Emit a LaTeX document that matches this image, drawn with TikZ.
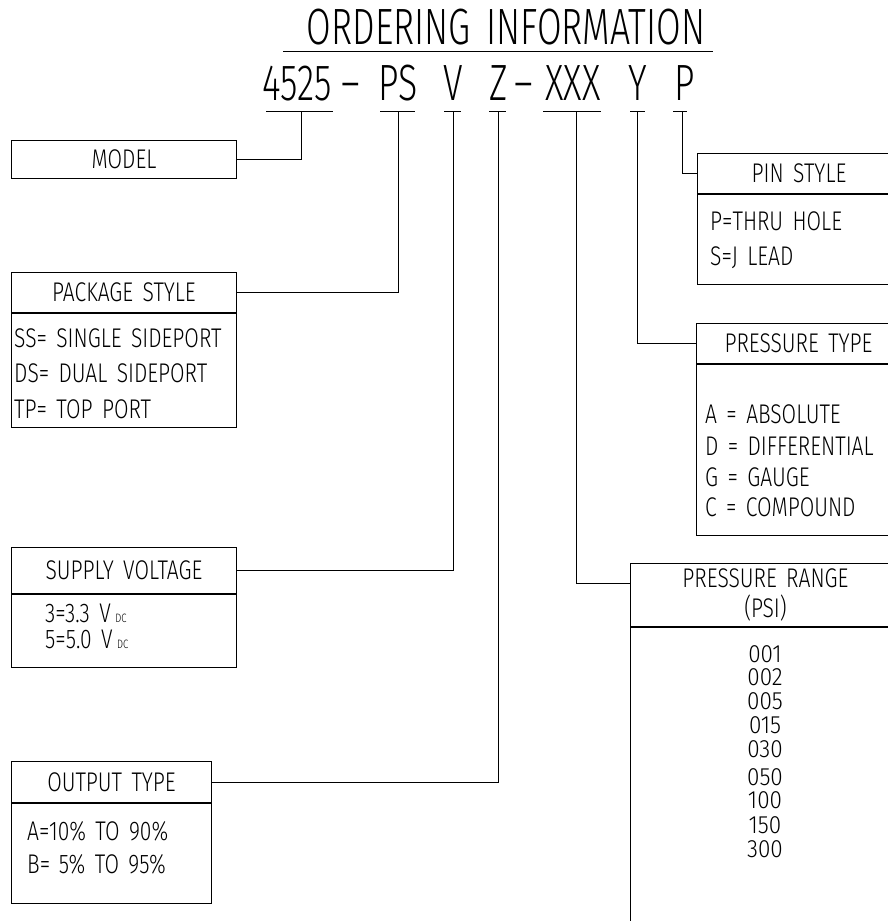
\documentclass[tikz,border=0pt]{standalone}
\usepackage{fontspec}
\IfFontExistsTF{Fira Sans Light}
 {\setmainfont{Fira Sans Light}[FakeStretch=0.78,WordSpace=1.6]
  \newfontfamily\bigfamily{Fira Sans Light}[FakeStretch=0.7,WordSpace=1.6]
  \newfontfamily\numfamily{Fira Sans Light}[FakeStretch=0.9]}
 {\setmainfont{Liberation Sans}[FakeStretch=0.75,WordSpace=1.6]
  \newfontfamily\bigfamily{Liberation Sans}[FakeStretch=0.68,WordSpace=1.6]
  \newfontfamily\numfamily{Liberation Sans}[FakeStretch=0.85]}
\newcommand{\bigtype}{\bigfamily\fontsize{51}{51}\selectfont}
\newcommand{\boxtype}{\fontsize{27}{30}\selectfont}
\newcommand{\numtype}{\numfamily\fontsize{25}{27}\selectfont}
\newcommand{\dcsub}{\,\scalebox{0.45}{DC}}
\tikzset{leader/.style={line width=1pt},
 headbox/.style={draw,line width=1pt,anchor=north west,inner sep=0pt,font=\boxtype,align=center},
 bodybox/.style={draw,line width=1pt,anchor=north west,inner sep=0pt},
 entry/.style={anchor=base west,inner sep=0pt,font=\boxtype}}

\begin{document}
\begin{tikzpicture}[x=1pt,y=-1pt]
\useasboundingbox (0,0) rectangle (888,921);
\clip (0,0) rectangle (888,921);
\node[font=\bigtype,inner sep=0pt] (title) at (506,27) {ORDERING INFORMATION};
\draw[leader] (283,51) -- (713,51);
\foreach \name/\part/\x in {c4525/4525/297,cdash1/–/351,cps/PS/398,cv/V/453,cz/Z/499,
 cdash2/–/524,cxxx/XXX/573,cy/Y/638,cp/P/685}
 \node[font=\bigtype,inner sep=0pt,anchor=base] (\name) at (\x,100) {\part};
\foreach \tick/\from/\to/\stem in {t4525/266/333/301,tps/380/415/398,tv/444/461/453,
 tz/489/506/498,txxx/543/601/576,ty/630/645/637,tp/673/687/682} {
\draw[leader] (\from,111) -- (\to,111);
\coordinate (\tick) at (\stem,111);
}
\node[headbox,minimum width=225pt,minimum height=38pt] (model) at (11,140) {MODEL};
\node[headbox,minimum width=225pt,minimum height=40pt] (package) at (11,272) {PACKAGE STYLE};
\node[bodybox,minimum width=225pt,minimum height=114pt] (packagebody) at (package.south west) {};
\node[headbox,minimum width=225pt,minimum height=46pt] (supply) at (11,547) {SUPPLY VOLTAGE};
\node[bodybox,minimum width=225pt,minimum height=73pt] (supplybody) at (supply.south west) {};
\node[headbox,minimum width=200pt,minimum height=41pt] (output) at (11,761) {OUTPUT TYPE};
\node[bodybox,minimum width=200pt,minimum height=100pt] (outputbody) at (output.south west) {};
\node[headbox,minimum width=203pt,minimum height=40pt] (pin) at (697,153) {PIN STYLE};
\node[bodybox,minimum width=203pt,minimum height=90pt] (pinbody) at (pin.south west) {};
\node[headbox,minimum width=204pt,minimum height=40pt] (ptype) at (696,323) {PRESSURE TYPE};
\node[bodybox,minimum width=204pt,minimum height=171pt] (ptypebody) at (ptype.south west) {};
\node[headbox,minimum width=270pt,minimum height=63pt] (prange) at (630,563) {PRESSURE RANGE\\(PSI)};
\node[bodybox,minimum width=270pt,minimum height=320pt] (prangebody) at (prange.south west) {};
\draw[leader] (t4525) |- (model.east);
\draw[leader] (tps) |- (package.east);
\draw[leader] (tv) |- (supply.east);
\draw[leader] (tz) |- (output.east);
\draw[leader] (tp) |- (pin.west);
\draw[leader] (ty) |- (ptype.west);
\draw[leader] (txxx) |- ([yshift=-20pt]prange.north west);
\foreach \y/\entrytext [count=\i] in {347/SS= SINGLE SIDEPORT,382/DS= DUAL SIDEPORT,418/TP= TOP PORT}
 \node[entry] (packageline\i) at (14,\y) {\entrytext};
\foreach \y/\entrytext [count=\i] in {622/3=3.3 V\dcsub,648/5=5.0 V\dcsub}
 \node[entry] (supplyline\i) at (45,\y) {\entrytext};
\foreach \y/\entrytext [count=\i] in {840/A=10\% TO 90\%,873/B=\hphantom{1}5\% TO 95\%}
 \node[entry] (outputline\i) at (27,\y) {\entrytext};
\foreach \y/\entrytext [count=\i] in {230/P=THRU HOLE,265/S=J LEAD}
 \node[entry] (pinline\i) at (710,\y) {\entrytext};
\foreach \y/\entrytext [count=\i] in {423/A = ABSOLUTE,455/D = DIFFERENTIAL,486/G = GAUGE,516/C = COMPOUND}
 \node[entry] (ptypeline\i) at (705,\y) {\entrytext};
\foreach \y/\entrytext [count=\i] in {662/001,685/002,709/005,733/015,757/030,785/050,808/100,833/150,857/300}
 \node[anchor=base,inner sep=0pt,font=\numtype] (rangeline\i) at (765,\y) {\entrytext};
\end{tikzpicture}
\end{document}
